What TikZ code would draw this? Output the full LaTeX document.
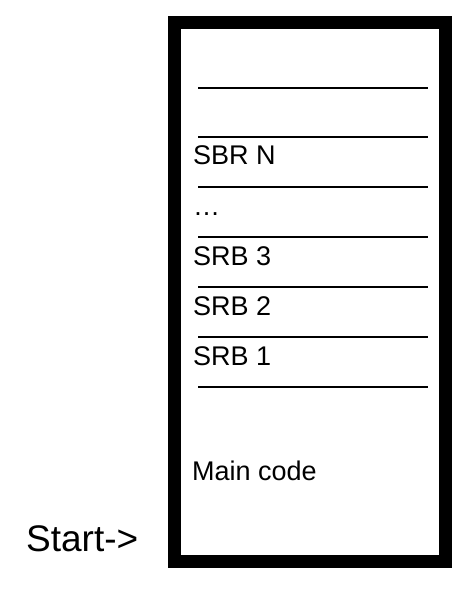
\documentclass[tikz,border=0pt]{standalone}
\usepackage{fontspec}
\setmainfont{Liberation Sans}
\begin{document}
\begin{tikzpicture}[x=1pt,y=-1pt,
  lbl/.style={anchor=base west,inner sep=0pt,font=\fontsize{27}{31}\selectfont},
  sep/.style={line width=2pt}]
\useasboundingbox (0,0) rectangle (476,590);
\draw[line width=13pt] (174.5,22.5) rectangle (445.5,561);
\foreach \y [count=\i] in {88,137,187,237,287,337,387}
  \coordinate (l\i) at (198,\y);
\foreach \y [count=\i] in {88,137,187,237,287,337,387}
  \coordinate (r\i) at (428,\y);
\foreach \i in {1,...,7}
  \draw[sep] (l\i) -- (r\i);
\node[lbl] (sbrn) at (193,164) {SBR N};
\node[lbl] (dots) at (193,215) {…};
\node[lbl] (srb3) at (193,265) {SRB 3};
\node[lbl] (srb2) at (193,315) {SRB 2};
\node[lbl] (srb1) at (193,365) {SRB 1};
\node[lbl] (main) at (192,480) {Main code};
\node[lbl,font=\fontsize{37}{41}\selectfont] (start) at (26,551) {Start->};
\end{tikzpicture}
\end{document}
